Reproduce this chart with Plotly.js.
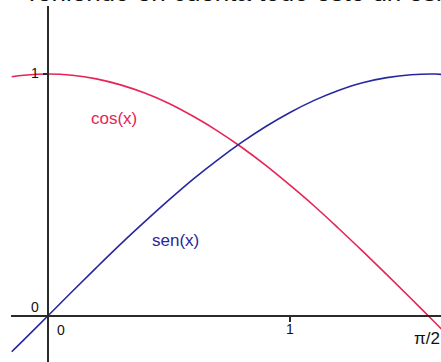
<!DOCTYPE html>
<html>
<head>
<meta charset="utf-8">
<script src="https://cdn.plot.ly/plotly-3.0.1.min.js"></script>
<style>
  html, body { margin: 0; padding: 0; background: #fff; }
  #plot { width: 441px; height: 362px; }
</style>
</head>
<body>
<div id="plot"></div>
<script>
// values
const xVals = [-0.15, -0.1, 0, 0.1, 0.2, 0.3, 0.4, 0.5, 0.6, 0.7, 0.8, 0.9, 1.0, 1.1, 1.2, 1.3, 1.4, 1.5, 1.6, 1.63];
const cosVals = [0.989, 0.995, 1, 0.995, 0.980, 0.955, 0.921, 0.878, 0.825, 0.765, 0.697, 0.622, 0.540, 0.454, 0.362, 0.267, 0.170, 0.071, -0.029, -0.059];
const senVals = [-0.149, -0.100, 0, 0.100, 0.199, 0.296, 0.389, 0.479, 0.565, 0.644, 0.717, 0.783, 0.841, 0.891, 0.932, 0.964, 0.985, 0.997, 1.000, 0.998];

const seriesNames = ["cos(x)", "sen(x)"];
const tickTexts = ["0", "0", "1", "π/2", "1"];
const headline = "Teniendo en cuenta todo esto un esbozo";

const red = "#e62456";
const blue = "#27279e";
const font = "Arial, 'Liberation Sans', sans-serif";

const traces = [
  { x: xVals, y: cosVals, mode: "lines", line: { color: red, width: 1.6, shape: "spline" }, name: seriesNames[0], hoverinfo: "skip" },
  { x: xVals, y: senVals, mode: "lines", line: { color: blue, width: 1.6, shape: "spline" }, name: seriesNames[1], hoverinfo: "skip" }
];

const lbl = (text, x, y, color, size) => ({
  text: text, x: x, y: y, xref: "x", yref: "y", showarrow: false,
  xanchor: "center", yanchor: "middle",
  font: { family: font, size: size || 14, color: color || "#111" }
});

const layout = {
  width: 441, height: 362,
  margin: { l: 11, r: 0, t: 6, b: 0 },
  paper_bgcolor: "#fff", plot_bgcolor: "#fff",
  showlegend: false,
  xaxis: {
    range: [-0.1529, 1.624], anchor: "free", position: 0.130,
    showgrid: false, zeroline: false, showline: true, linecolor: "#2a2a2a", linewidth: 2,
    ticks: "outside", ticklen: 5, tickcolor: "#2a2a2a", tickwidth: 1.5,
    tickvals: [1], showticklabels: false, fixedrange: true
  },
  yaxis: {
    range: [-0.1915, 1.2814], anchor: "free", position: 0.086,
    showgrid: false, zeroline: false, showline: true, linecolor: "#2a2a2a", linewidth: 2,
    ticks: "outside", ticklen: 4, tickcolor: "#2a2a2a", tickwidth: 1.5,
    tickvals: [1], showticklabels: false, fixedrange: true
  },
  annotations: [
    lbl(tickTexts[0], -0.054, 0.036),
    lbl(tickTexts[1], 0.054, -0.059),
    lbl(tickTexts[2], 1.0, -0.055),
    lbl(tickTexts[3], 1.566, -0.096, "#111", 17),
    lbl(tickTexts[4], -0.054, 1.004),
    lbl(seriesNames[0], 0.273, 0.818, red, 17),
    lbl(seriesNames[1], 0.525, 0.313, blue, 17),
    {
      text: headline, xref: "paper", yref: "paper", x: 0.0256, y: 0.9916,
      yshift: 0, xanchor: "left", yanchor: "bottom", showarrow: false,
      font: { family: font, size: 26, color: "#111" }
    }
  ]
};

Plotly.newPlot("plot", traces, layout, { staticPlot: true });
</script>
</body>
</html>
